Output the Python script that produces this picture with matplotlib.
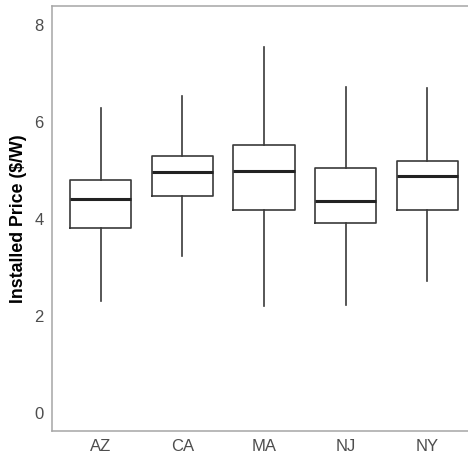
import matplotlib
matplotlib.use("Agg")
import matplotlib.pyplot as plt

states = ["AZ", "CA", "MA", "NJ", "NY"]
whislo = [2.31, 3.24, 2.21, 2.23, 2.73]
q1 = [3.81, 4.48, 4.19, 3.92, 4.18]
med = [4.41, 4.98, 5.00, 4.38, 4.89]
q3 = [4.80, 5.31, 5.54, 5.06, 5.20]
whishi = [6.29, 6.54, 7.55, 6.73, 6.71]

plt.rcParams['font.family'] = ['Liberation Sans', 'DejaVu Sans']

stats = []
for i in range(len(states)):
    stats.append(dict(label=states[i], whislo=whislo[i], q1=q1[i], med=med[i],
                      q3=q3[i], whishi=whishi[i], fliers=[]))

fig = plt.figure(figsize=(4.68, 4.55), dpi=100)
ax = fig.add_axes([0.111, 0.053, 0.889, 0.934])

line = dict(color='#3a3a3a', linewidth=1.2)
ax.bxp(stats, widths=0.75, showfliers=False, showcaps=False,
       boxprops=line, whiskerprops=line,
       medianprops=dict(color='#222222', linewidth=2.2))

ax.set_xlim(0.4, 5.5)
ax.set_ylim(-0.37, 8.4)
ax.set_yticks([0, 2, 4, 6, 8])
ax.tick_params(length=0, labelsize=12, labelcolor='#4d4d4d', pad=6)
ax.set_ylabel("Installed Price ($/W)", fontsize=12.8, fontweight='bold', labelpad=5)

for s in ['left', 'top', 'bottom']:
    ax.spines[s].set_color('#a6a6a6')
    ax.spines[s].set_linewidth(1.1)
ax.spines['right'].set_visible(False)

fig.savefig("out.png", dpi=100)
